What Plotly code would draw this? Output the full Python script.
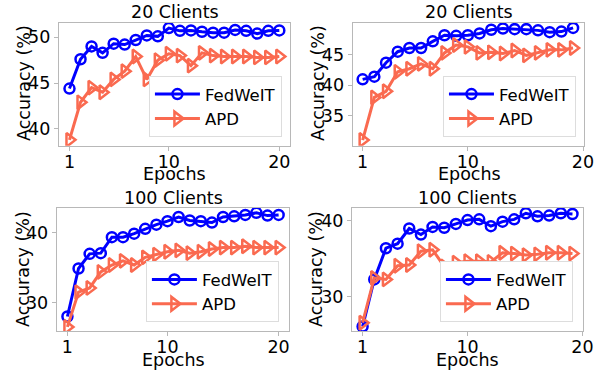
import plotly.graph_objects as go

# ---- data ----
tick_labels = ["1", "10", "20"]

fedweit_20a = [44.4, 47.6, 49.0, 48.3, 49.3, 49.2, 49.7, 50.2, 50.1, 51.0, 50.7, 50.75, 50.6, 50.5, 50.5, 50.8, 50.7, 50.4, 50.7, 50.75]
apd_20a = [38.8, 42.9, 44.5, 44.0, 45.4, 46.3, 47.9, 45.4, 47.5, 48.2, 48.0, 46.9, 48.3, 48.0, 47.9, 47.9, 47.9, 47.8, 47.8, 47.9]

fedweit_20b = [40.96, 41.4, 43.7, 45.5, 46.1, 46.1, 47.2, 48.2, 48.1, 48.2, 48.5, 49.1, 49.3, 49.2, 49.2, 49.0, 48.7, 48.8, 49.4]
apd_20b = [31.0, 38.0, 39.0, 42.2, 42.7, 43.5, 42.7, 45.3, 46.6, 46.3, 45.3, 45.4, 45.2, 45.7, 44.9, 45.3, 45.8, 45.8, 46.1]

fedweit_100a = [28.0, 34.9, 37.0, 37.1, 39.4, 39.4, 39.9, 40.6, 41.2, 41.7, 42.3, 41.8, 41.7, 41.5, 42.3, 42.4, 42.6, 42.9, 42.5, 42.6]
apd_100a = [26.5, 31.5, 32.1, 34.4, 35.4, 36.0, 35.4, 36.5, 36.9, 37.3, 37.5, 37.1, 37.3, 37.7, 37.9, 37.9, 38.1, 37.9, 37.9, 37.9]

fedweit_100b = [26.1, 32.3, 36.4, 37.0, 39.0, 38.2, 39.2, 39.1, 39.6, 40.1, 40.2, 39.3, 39.9, 40.2, 41.0, 40.6, 40.7, 41.0, 40.9]
apd_100b = [26.6, 32.5, 32.3, 34.1, 34.2, 36.0, 36.2, 34.0, 34.5, 34.7, 34.7, 34.6, 35.8, 35.7, 35.5, 35.6, 35.8, 35.8, 35.7]

titles = ["20 Clients", "20 Clients", "100 Clients", "100 Clients"]
x_title = "Epochs"
y_title = "Accuracy (%)"

W, H = 605, 372

panels = [
    dict(f=fedweit_20a, a=apd_20a, xd=[0.0975, 0.479], yd=[0.608, 0.938],
         xr=[-0.95, 19.95], xt=[0, 9, 19], yr=[38.15, 51.55], yt=[40, 45, 50],
         leg=(0.466, 0.632), title_px=(175, 12), xt_px=(174.5, 174), yt_px=(24, 83)),
    dict(f=fedweit_20b, a=apd_20b, xd=[0.583, 0.965], yd=[0.608, 0.938],
         xr=[-0.85, 18.92], xt=[0, 9, 18.85], yr=[30.05, 50.2], yt=[35, 40, 45],
         leg=(0.952, 0.632), title_px=(469, 12), xt_px=(469.5, 174), yt_px=(318, 83)),
    dict(f=fedweit_100a, a=apd_100a, xd=[0.094, 0.478], yd=[0.110, 0.441],
         xr=[-0.95, 19.95], xt=[0, 9, 19], yr=[25.9, 43.6], yt=[30, 40],
         leg=(0.461, 0.134), title_px=(173, 198), xt_px=(173, 360), yt_px=(23, 269)),
    dict(f=fedweit_100b, a=apd_100b, xd=[0.582, 0.964], yd=[0.110, 0.441],
         xr=[-0.9, 18.92], xt=[0, 9, 18.85], yr=[25.5, 41.7], yt=[30, 40],
         leg=(0.947, 0.134), title_px=(467, 198), xt_px=(467, 360), yt_px=(316, 269)),
]

BLUE = "#0000ff"
RED = "#fa6a50"
FONT = "DejaVu Sans"
FRAME = "#b8b8b8"
FS = 17.5

fig = go.Figure()
layout = dict(
    width=W, height=H,
    margin=dict(l=0, r=0, t=0, b=0),
    paper_bgcolor="white", plot_bgcolor="white",
    font=dict(family=FONT, size=FS, color="black"),
    annotations=[],
)


def ann(text, px, py, angle=0):
    return dict(text=text, x=px / W, y=1 - py / H, xref="paper", yref="paper",
                xanchor="center", yanchor="middle", showarrow=False,
                textangle=angle, font=dict(size=FS))


for i, p in enumerate(panels):
    n = i + 1
    sfx = "" if n == 1 else str(n)
    legname = "legend" if n == 1 else f"legend{n}"
    fig.add_trace(go.Scatter(
        x=list(range(len(p["f"]))), y=p["f"], mode="lines+markers", name="FedWeIT",
        line=dict(color=BLUE, width=3),
        marker=dict(symbol="circle-open", size=10, color=BLUE, line=dict(width=2.5, color=BLUE)),
        xaxis="x" + sfx, yaxis="y" + sfx, legend=legname,
    ))
    fig.add_trace(go.Scatter(
        x=list(range(len(p["a"]))), y=p["a"], mode="lines+markers", name="APD",
        line=dict(color=RED, width=3),
        marker=dict(symbol="triangle-right-open", size=12, color=RED, line=dict(width=2.5, color=RED)),
        xaxis="x" + sfx, yaxis="y" + sfx, legend=legname,
    ))
    layout["xaxis" + sfx] = dict(
        domain=p["xd"], anchor="y" + sfx, range=p["xr"], automargin=False,
        tickmode="array", tickvals=p["xt"], ticktext=tick_labels,
        showgrid=False, zeroline=False, showline=True, mirror=True,
        linecolor=FRAME, linewidth=1.2, ticks="outside", ticklen=4, tickcolor=FRAME,
        tickfont=dict(size=FS), ticklabelstandoff=-4,
    )
    layout["yaxis" + sfx] = dict(
        domain=p["yd"], anchor="x" + sfx, range=p["yr"], automargin=False,
        tickmode="array", tickvals=p["yt"],
        showgrid=False, zeroline=False, showline=True, mirror=True,
        linecolor=FRAME, linewidth=1.2, ticks="outside", ticklen=4, tickcolor=FRAME,
        tickfont=dict(size=FS),
    )
    layout[legname] = dict(
        x=p["leg"][0], y=p["leg"][1], xanchor="right", yanchor="bottom",
        xref="paper", yref="paper", itemwidth=45,
        bgcolor="white", bordercolor="#dddddd", borderwidth=1,
        font=dict(size=16.5),
    )
    layout["annotations"].append(ann(titles[i], *p["title_px"]))
    layout["annotations"].append(ann(x_title, *p["xt_px"]))
    layout["annotations"].append(ann(y_title, *p["yt_px"], angle=-90))

fig.update_layout(**layout)
fig.write_html("out.html", post_script="document.body.style.margin='0';",
               config={"displayModeBar": False})
